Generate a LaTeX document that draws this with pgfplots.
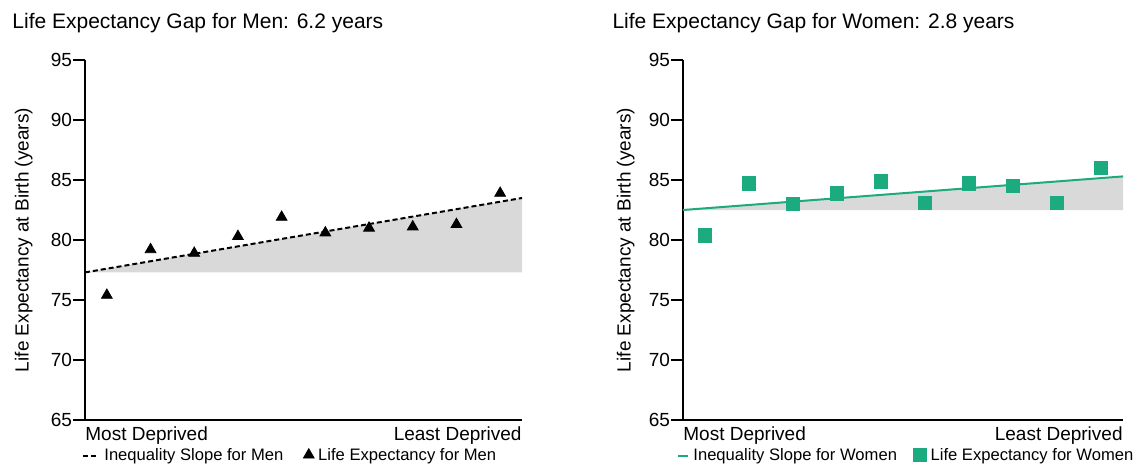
\documentclass[border=0pt]{standalone}
\usepackage{pgfplots}
\pgfplotsset{compat=1.18}
\usepackage{fontspec}
\setmainfont{Liberation Sans}
\definecolor{teal}{HTML}{1CAA7F}
\definecolor{shade}{HTML}{D9D9D9}

\pgfplotsset{
  lineleg/.style={legend image code/.code={\draw[##1] (0pt,0pt) -- (#1,0pt);}},
  markleg/.style={legend image code/.code={\draw[##1] plot coordinates {(3.5pt,0.5pt)};}},
  gapstyle/.style={
    scale only axis,
    height=180pt,
    xmin=0.5, xmax=10.5,
    ymin=65, ymax=95,
    ytick={65,70,...,95},
    xtick=\empty,
    axis lines=left,
    axis line style={-, line width=0.75pt},
    tick style={black, line width=0.6pt},
    tick align=outside,
    major tick length=6pt,
    /pgf/number format/assume math mode=true,
    ticklabel style={font=\fontsize{9.5}{11}\selectfont},
    yticklabel style={inner sep=0.3pt},
    label style={font=\fontsize{9.5}{11}\selectfont},
    title style={font=\fontsize{10.5}{12}\selectfont, anchor=base west, inner sep=0pt},
    legend style={draw=none, fill=none, inner sep=0pt, anchor=north west,
      at={(axis description cs:0,0)}, yshift=-12pt,
      font=\fontsize{8.3}{10}\selectfont},
    legend columns=2,
    legend cell align=left,
    /tikz/every even column/.append style={column sep=8pt},
    clip=false,
  }
}

\begin{document}
\begin{tikzpicture}
\useasboundingbox (0,0) rectangle (570pt,-232.5pt);

% ---- Men ----
\begin{axis}[gapstyle,
  at={(42.5pt,-210pt)}, anchor=south west,
  width=218.5pt,
  title={Life Expectancy Gap for Men: 6.2 years},
  title style={at={(axis description cs:-0.167,1.053)}},
  ylabel={Life Expectancy at Birth (years)},
  ylabel style={at={(axis description cs:-0.14,0.5)}, anchor=center},
  legend style={xshift=-1.5pt},
]
\addplot[fill=shade, draw=none, forget plot] coordinates {(0.5,77.3) (10.5,83.5) (10.5,77.3)} -- cycle;
\addplot[black, line width=1pt, dash pattern=on 2.5pt off 1.5pt, lineleg=8pt] coordinates {(0.5,77.3) (10.5,83.5)};
\addplot[only marks, mark=triangle*, mark size=3.1pt, black, markleg] coordinates {
  (1,75.4) (2,79.2) (3,78.9) (4,80.3) (5,81.9)
  (6,80.6) (7,81.0) (8,81.1) (9,81.3) (10,83.9)
};
\legend{Inequality Slope for Men, Life Expectancy for Men}
\node[anchor=north west, inner sep=0pt, font=\fontsize{9.5}{11}\selectfont] at (rel axis cs:0,0) [yshift=-3pt] {Most Deprived};
\node[anchor=north east, inner sep=0pt, font=\fontsize{9.5}{11}\selectfont] at (rel axis cs:1,0) [yshift=-3pt] {Least Deprived};
\end{axis}

% ---- Women ----
\begin{axis}[gapstyle,
  at={(341.5pt,-210pt)}, anchor=south west,
  width=220pt,
  title={Life Expectancy Gap for Women: 2.8 years},
  title style={at={(axis description cs:-0.161,1.053)}},
  ylabel={Life Expectancy at Birth (years)},
  ylabel style={at={(axis description cs:-0.13,0.5)}, anchor=center},
  legend style={xshift=-3pt},
  /tikz/every even column/.append style={column sep=6pt},
]
\addplot[fill=shade, draw=none, forget plot] coordinates {(0.5,82.5) (10.5,85.3) (10.5,82.5)} -- cycle;
\addplot[teal, line width=1pt, lineleg=5pt] coordinates {(0.5,82.5) (10.5,85.3)};
\addplot[only marks, mark=square*, mark size=3.4pt, teal, markleg] coordinates {
  (1,80.4) (2,84.7) (3,83.0) (4,83.9) (5,84.9)
  (6,83.1) (7,84.7) (8,84.5) (9,83.1) (10,86.0)
};
\legend{Inequality Slope for Women, Life Expectancy for Women}
\node[anchor=north west, inner sep=0pt, font=\fontsize{9.5}{11}\selectfont] at (rel axis cs:0,0) [yshift=-3pt] {Most Deprived};
\node[anchor=north east, inner sep=0pt, font=\fontsize{9.5}{11}\selectfont] at (rel axis cs:1,0) [yshift=-3pt] {Least Deprived};
\end{axis}
\end{tikzpicture}
\end{document}
